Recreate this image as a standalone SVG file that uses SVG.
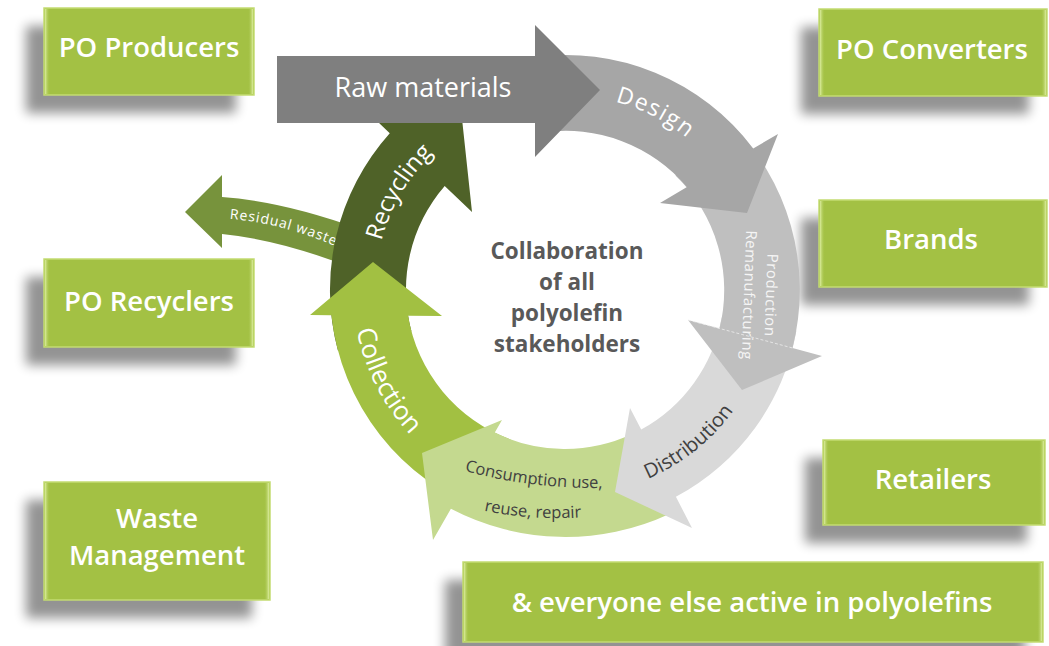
<svg xmlns="http://www.w3.org/2000/svg" width="1049" height="646" viewBox="0 0 1049 646">
<defs>
<style>
.box{fill:#a3c144;stroke:#c3db72;stroke-width:1.5}
.sh{fill:#000;opacity:0.42;filter:url(#blur)}
.hl{fill:url(#hlg)}
.bt{font-family:"Open Sans","Liberation Sans",sans-serif;font-weight:600;font-size:27.5px;fill:#ffffff;text-anchor:middle}
.lbl{font-family:"Open Sans","Liberation Sans",sans-serif;text-anchor:middle}
.w{fill:#ffffff}
.d{fill:#404040}
.ctr{font-family:"Open Sans","Liberation Sans",sans-serif;font-weight:bold;font-size:22.5px;fill:#595959;text-anchor:middle}
</style>
<filter id="blur" x="-20%" y="-30%" width="140%" height="160%"><feGaussianBlur stdDeviation="6"/></filter>
<linearGradient id="hlg" x1="0" y1="0" x2="1" y2="0">
<stop offset="0" stop-color="#e2f2a8" stop-opacity="0.9"/>
<stop offset="1" stop-color="#a3c144" stop-opacity="0"/>
</linearGradient>
<path id="tpDesign" d="M554.8,95.3 A195,195 0 0 1 728.5,183.8"/>
<path id="tpDist" d="M597.2,493.5 A208,208 0 0 0 759,364.5"/>
<path id="tpCons1" d="M452,467 Q525,490 616,488"/>
<path id="tpCons2" d="M468,507 Q530,523 598,516"/>
<path id="tpColl" d="M356.2,253.2 A212,212 0 0 0 472.1,480.5"/>
<path id="tpRecy" d="M375.7,306.6 A190,190 0 0 1 487.7,116.4"/>
<path id="tpResid" d="M218,218 Q282,221 346,251"/>
</defs>
<rect width="1049" height="646" fill="#ffffff"/>

<g id="po-producers">
<rect class="sh" x="26" y="26" width="210" height="87"/>
<rect class="box" x="44" y="8" width="210" height="87"/>
<rect class="hl" x="45" y="9" width="5" height="85"/><rect class="hl" x="248" y="9" width="5" height="85" transform="rotate(180 250.5 51.5)"/>
<text class="bt" x="149" y="57">PO Producers</text>
</g>
<g id="po-converters">
<rect class="sh" x="801" y="27" width="228" height="87"/>
<rect class="box" x="819" y="9" width="228" height="87"/>
<rect class="hl" x="820" y="10" width="5" height="85"/><rect class="hl" x="1041" y="10" width="5" height="85" transform="rotate(180 1043.5 52.5)"/>
<text class="bt" x="932" y="59">PO Converters</text>
</g>
<g id="brands">
<rect class="sh" x="801" y="218" width="228" height="87"/>
<rect class="box" x="819" y="200" width="228" height="87"/>
<rect class="hl" x="820" y="201" width="5" height="85"/><rect class="hl" x="1041" y="201" width="5" height="85" transform="rotate(180 1043.5 243.5)"/>
<text class="bt" x="931" y="249">Brands</text>
</g>
<g id="po-recyclers">
<rect class="sh" x="26" y="277" width="210" height="88"/>
<rect class="box" x="44" y="259" width="210" height="88"/>
<rect class="hl" x="45" y="260" width="5" height="86"/><rect class="hl" x="248" y="260" width="5" height="86" transform="rotate(180 250.5 303)"/>
<text class="bt" x="149" y="311">PO Recyclers</text>
</g>
<g id="waste-management">
<rect class="sh" x="26" y="500" width="226" height="118"/>
<rect class="box" x="44" y="482" width="226" height="118"/>
<rect class="hl" x="45" y="483" width="5" height="116"/><rect class="hl" x="264" y="483" width="5" height="116" transform="rotate(180 266.5 541)"/>
<text class="bt" x="157" y="528">Waste</text>
<text class="bt" x="157" y="565">Management</text>
</g>
<g id="retailers">
<rect class="sh" x="805" y="458" width="222" height="85"/>
<rect class="box" x="823" y="440" width="222" height="85"/>
<rect class="hl" x="824" y="441" width="5" height="83"/><rect class="hl" x="1039" y="441" width="5" height="83" transform="rotate(180 1041.5 482.5)"/>
<text class="bt" x="933" y="489">Retailers</text>
</g>
<g id="everyone-else">
<rect class="sh" x="445" y="580" width="580" height="80"/>
<rect class="box" x="463" y="562" width="580" height="80"/>
<rect class="hl" x="464" y="563" width="5" height="78"/><rect class="hl" x="1037" y="563" width="5" height="78" transform="rotate(180 1039.5 602)"/>
<text class="bt" x="752" y="612">&amp; everyone else active in polyolefins</text>
</g>

<g id="connectors">
<g id="residual-waste">
<path d="M222,175 L185,212 L222,248 L222,234 Q282,240 352,268 L360,229 Q282,201 222,197 Z" fill="#77933c"/>
<text class="lbl w" font-size="14" letter-spacing="0.9"><textPath href="#tpResid" startOffset="50%">Residual waste</textPath></text>
</g>
<g id="recycling">
<path d="M338,350.8 A235,235 0 0 1 389.75,133.25 L378,122 L460,100 L472,212 L444.7,185.9 A159,159 0 0 0 411.4,331.2 Z" fill="#4f6228"/>
<text class="lbl w" font-size="24"><textPath href="#tpRecy" startOffset="50%">Recycling</textPath></text>
</g>
<g id="collection">
<path d="M484.6,510.8 A235,235 0 0 1 331.4,315.2 L310,315 L373,262 L442,316 L408.1,315.7 A159,159 0 0 0 510.6,439.4 Z" fill="#a2c042"/>
<text class="lbl w" font-size="26"><textPath href="#tpColl" startOffset="50%">Collection</textPath></text>
</g>
<g id="consumption">
<path d="M669.4,513.9 A247,247 0 0 1 450.9,508.8 L433,540 L422,453 L502,420 L494.8,432.6 A159,159 0 0 0 632.2,434.1 Z" fill="#c4d98f"/>
<text class="lbl d" font-size="16.5"><textPath href="#tpCons1" startOffset="50%">Consumption use,</textPath></text>
<text class="lbl d" font-size="16.5"><textPath href="#tpCons2" startOffset="50%">reuse, repair</textPath></text>
</g>
<g id="distribution">
<path d="M796.4,330.8 A235,235 0 0 1 675.9,496.8 L692,528 L615,492 L630,408 L641.2,429.6 A159,159 0 0 0 721.6,317.6 Z" fill="#d9d9d9"/>
<text class="lbl d" font-size="20"><textPath href="#tpDist" startOffset="50%">Distribution</textPath></text>
</g>
<g id="production">
<path d="M728.2,121 A235,235 0 0 1 792.5,348 L822,356 L742,390 L688,320 L719.5,328.5 A159,159 0 0 0 675.5,175.6 Z" fill="#bfbfbf"/>
<line x1="688" y1="320" x2="792.5" y2="348" stroke="#eeeeee" stroke-width="0.8" stroke-dasharray="3 2"/>
<text class="lbl" font-size="15" fill="#f5f5f5" letter-spacing="0.6" transform="translate(766 295) rotate(92)">Production</text>
<text class="lbl" font-size="15" fill="#f5f5f5" letter-spacing="0.6" transform="translate(744 295) rotate(92)">Remanufacturing</text>
</g>
<g id="design">
<path d="M532.3,57.3 A235,235 0 0 1 753.2,148.5 L778,134 L747,213 L660,203 L687,187 A159,159 0 0 0 542.9,132.5 Z" fill="#a6a6a6"/>
<text class="lbl w" font-size="23" letter-spacing="1.5"><textPath href="#tpDesign" startOffset="50%">Design</textPath></text>
</g>
<g id="raw-materials">
<path d="M277,56 L535,56 L535,25 L600,90 L535,157 L535,123 L277,123 Z" fill="#7f7f7f"/>
<text class="lbl w" font-size="27" x="423" y="97">Raw materials</text>
</g>
</g>

<g id="center">
<text class="ctr" x="567" y="259">Collaboration</text>
<text class="ctr" x="567" y="290">of all</text>
<text class="ctr" x="567" y="321">polyolefin</text>
<text class="ctr" x="567" y="352">stakeholders</text>
</g>
</svg>
